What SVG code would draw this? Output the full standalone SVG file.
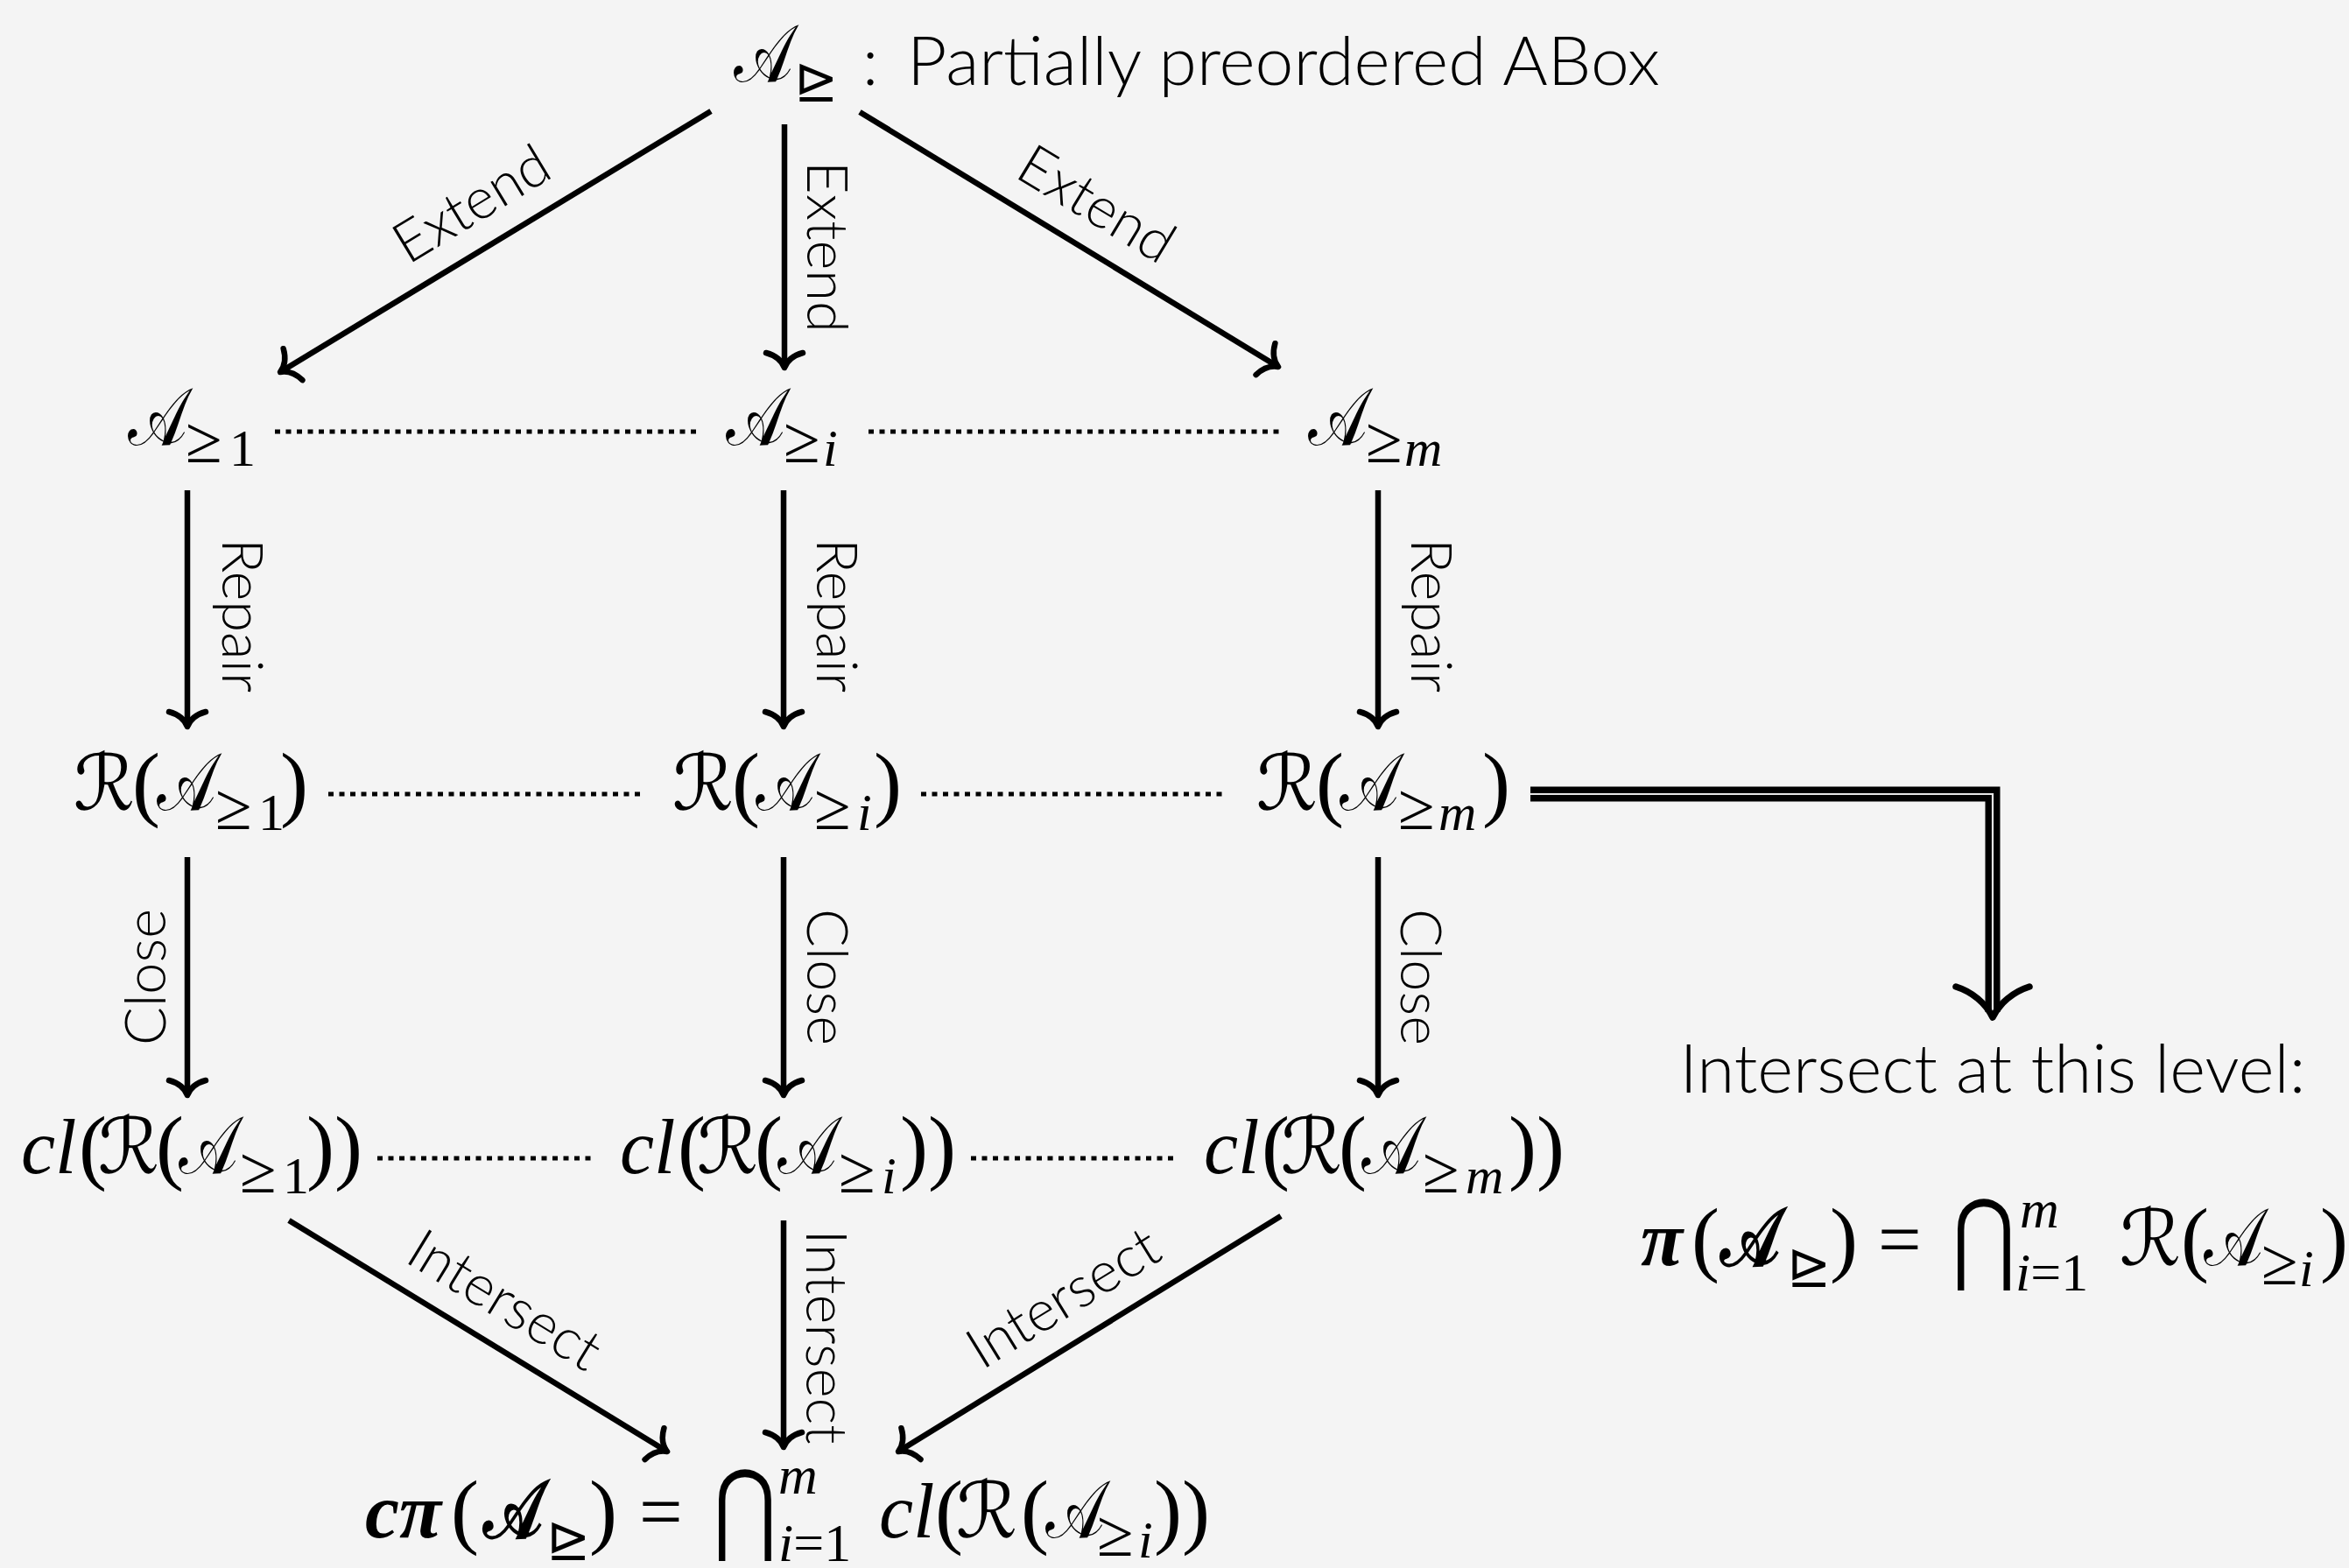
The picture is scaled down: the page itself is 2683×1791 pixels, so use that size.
<svg xmlns="http://www.w3.org/2000/svg" width="2683" height="1791" viewBox="0 0 2683 1791">
<style>
.lb{font-family:Lato,"Open Sans","Liberation Sans",sans-serif;font-weight:300;fill:#000}
.lab{font-size:65px}
.ttl{font-size:76px}
.mi{font-family:"Liberation Serif","DejaVu Serif",serif;font-style:italic}
.rm{font-family:"Liberation Serif","DejaVu Serif",serif;font-style:normal}
.pr{font-family:"Liberation Serif","DejaVu Serif",serif;font-style:normal;font-size:96px}
.cal{font-family:"DejaVu Serif","DejaVu Sans",serif;font-style:normal}
.ca{font-family:"DejaVu Serif","DejaVu Sans",serif;font-style:normal;font-size:92px}
.op{font-family:"DejaVu Sans",sans-serif;font-style:normal}
.ge{font-family:"Liberation Serif","DejaVu Serif",serif;font-style:normal;font-size:76px}
.big{font-size:88px}
.sub{font-size:60px}
.sc{font-size:62px}
.bd{font-weight:bold}
.ar{fill:none;stroke:#000;stroke-width:6.5;marker-end:url(#ah)}
.dot{fill:none;stroke:#000;stroke-width:5;stroke-dasharray:6 6.5}
</style>
<defs>
<marker id="ah" markerUnits="userSpaceOnUse" viewBox="-30 -30 40 60" refX="0" refY="0" markerWidth="40" markerHeight="60" orient="auto" overflow="visible">
<path d="M-17,-21 C-14,-10 -8,-3 0,0 C-8,3 -14,10 -17,21" fill="none" stroke="#000" stroke-width="6.5" stroke-linecap="round" stroke-linejoin="round"/>
</marker>
</defs>
<rect width="2683" height="1791" fill="#f4f4f4"/>

<g id="connectors">
<line class="ar" x1="812" y1="127" x2="320" y2="425"/>
<line class="ar" x1="896" y1="142" x2="896" y2="420"/>
<line class="ar" x1="982" y1="128" x2="1460" y2="419"/>
<line class="ar" x1="214" y1="560" x2="214" y2="830"/>
<line class="ar" x1="895" y1="560" x2="895" y2="830"/>
<line class="ar" x1="1574" y1="560" x2="1574" y2="830"/>
<line class="ar" x1="214" y1="979" x2="214" y2="1251"/>
<line class="ar" x1="895" y1="979" x2="895" y2="1251"/>
<line class="ar" x1="1574" y1="979" x2="1574" y2="1251"/>
<line class="ar" x1="330" y1="1394" x2="762" y2="1658"/>
<line class="ar" x1="895" y1="1394" x2="895" y2="1653"/>
<line class="ar" x1="1463" y1="1389" x2="1026" y2="1658"/>
<line class="dot" x1="314" y1="493" x2="798" y2="493"/>
<line class="dot" x1="992" y1="493" x2="1463" y2="493"/>
<line class="dot" x1="375" y1="907" x2="734" y2="907"/>
<line class="dot" x1="1052" y1="907" x2="1400" y2="907"/>
<line class="dot" x1="431" y1="1323" x2="678" y2="1323"/>
<line class="dot" x1="1109" y1="1323" x2="1343" y2="1323"/>
<path d="M1748,907 H2276 V1156" fill="none" stroke="#000" stroke-width="17" stroke-linejoin="miter"/>
<path d="M1748,907 H2276 V1157" fill="none" stroke="#e6e6e6" stroke-width="2.2" stroke-linejoin="miter"/>
<path d="M2234,1127 C2253,1133 2268,1146 2276,1162 C2284,1146 2299,1133 2318,1127" fill="none" stroke="#000" stroke-width="7.5" stroke-linecap="round" stroke-linejoin="round"/>
<text class="lb lab" text-anchor="middle" transform="translate(550,252) rotate(-31.2)">Extend</text>
<text class="lb lab" text-anchor="middle" transform="translate(922,282) rotate(90)">Extend</text>
<text class="lb lab" text-anchor="middle" transform="translate(1241,252) rotate(31.2)">Extend</text>
<text class="lb lab" text-anchor="middle" transform="translate(254,703) rotate(90)">Repair</text>
<text class="lb lab" text-anchor="middle" transform="translate(933,703) rotate(90)">Repair</text>
<text class="lb lab" text-anchor="middle" transform="translate(1612,703) rotate(90)">Repair</text>
<text class="lb lab" text-anchor="middle" transform="translate(189,1116) rotate(-90)">Close</text>
<text class="lb lab" text-anchor="middle" transform="translate(922,1116) rotate(90)">Close</text>
<text class="lb lab" text-anchor="middle" transform="translate(1600,1116) rotate(90)">Close</text>
<text class="lb lab" text-anchor="middle" transform="translate(565,1504) rotate(31.4)">Intersect</text>
<text class="lb lab" text-anchor="middle" transform="translate(921,1527) rotate(90)">Intersect</text>
<text class="lb lab" text-anchor="middle" transform="translate(1226,1501) rotate(-31.6)">Intersect</text>
</g>

<g id="n-top">
<text class="ca" transform="translate(838,93) scale(0.78,1)">𝒜</text>
<text class="op sub" x="907" y="113">⊵</text>
<text class="lb ttl" x="985" y="97">:</text>
<text class="lb ttl" x="1036" y="97" textLength="860" lengthAdjust="spacingAndGlyphs">Partially preordered ABox</text>
</g>

<g id="n-a1">
<text class="ca" transform="translate(146,508) scale(0.78,1)">𝒜</text>
<text class="big"><tspan class="ge" x="212" y="528">≥</tspan><tspan class="rm sub" x="262" y="532">1</tspan></text>
</g>
<g id="n-ai">
<text class="ca" transform="translate(829,508) scale(0.78,1)">𝒜</text>
<text class="big"><tspan class="ge" x="895" y="528">≥</tspan><tspan class="mi sub" x="940" y="532">i</tspan></text>
</g>
<g id="n-am">
<text class="ca" transform="translate(1494,508) scale(0.78,1)">𝒜</text>
<text class="big"><tspan class="ge" x="1560" y="528">≥</tspan><tspan class="mi sub" x="1604" y="532">m</tspan></text>
</g>

<g id="n-r1">
<text class="ca" transform="translate(179,925) scale(0.78,1)">𝒜</text>
<text class="big"><tspan class="cal" x="84" y="925">ℛ</tspan><tspan class="pr" x="151" y="926">(</tspan><tspan class="ge" x="246" y="947">≥</tspan><tspan class="rm sub" x="295" y="948">1</tspan><tspan class="pr" x="320" y="926">)</tspan></text>
</g>
<g id="n-ri">
<text class="ca" transform="translate(863,925) scale(0.78,1)">𝒜</text>
<text class="big"><tspan class="cal" x="768" y="925">ℛ</tspan><tspan class="pr" x="836" y="926">(</tspan><tspan class="ge" x="930" y="947">≥</tspan><tspan class="mi sub" x="979" y="948">i</tspan><tspan class="pr" x="998" y="926">)</tspan></text>
</g>
<g id="n-rm">
<text class="ca" transform="translate(1530,925) scale(0.78,1)">𝒜</text>
<text class="big"><tspan class="cal" x="1435" y="925">ℛ</tspan><tspan class="pr" x="1503" y="926">(</tspan><tspan class="ge" x="1597" y="947">≥</tspan><tspan class="mi sub" x="1643" y="948">m</tspan><tspan class="pr" x="1693" y="926">)</tspan></text>
</g>

<g id="n-c1">
<text class="ca" transform="translate(204,1340) scale(0.78,1)">𝒜</text>
<text class="big"><tspan class="mi" x="24" y="1340">cl</tspan><tspan class="pr" x="90" y="1341">(</tspan><tspan class="cal" x="112" y="1340">ℛ</tspan><tspan class="pr" x="178" y="1341">(</tspan><tspan class="ge" x="274" y="1362">≥</tspan><tspan class="rm sub" x="323" y="1363">1</tspan><tspan class="pr" x="350" y="1341">))</tspan></text>
</g>
<g id="n-ci">
<text class="ca" transform="translate(888,1340) scale(0.78,1)">𝒜</text>
<text class="big"><tspan class="mi" x="708" y="1340">cl</tspan><tspan class="pr" x="774" y="1341">(</tspan><tspan class="cal" x="796" y="1340">ℛ</tspan><tspan class="pr" x="862" y="1341">(</tspan><tspan class="ge" x="958" y="1362">≥</tspan><tspan class="mi sub" x="1007" y="1363">i</tspan><tspan class="pr" x="1028" y="1341">))</tspan></text>
</g>
<g id="n-cm">
<text class="ca" transform="translate(1555,1340) scale(0.78,1)">𝒜</text>
<text class="big"><tspan class="mi" x="1375" y="1340">cl</tspan><tspan class="pr" x="1441" y="1341">(</tspan><tspan class="cal" x="1463" y="1340">ℛ</tspan><tspan class="pr" x="1529" y="1341">(</tspan><tspan class="ge" x="1625" y="1362">≥</tspan><tspan class="mi sub" x="1674" y="1363">m</tspan><tspan class="pr" x="1723" y="1341">))</tspan></text>
</g>

<g id="n-cpi">
<text class="ca bd" transform="translate(552,1756) scale(0.78,1)">𝒜</text>
<text class="big"><tspan class="mi bd" x="417" y="1756">cπ</tspan><tspan class="pr" x="515" y="1757">(</tspan><tspan class="op sub" x="624" y="1779">⊵</tspan><tspan class="pr" x="673" y="1757">)</tspan><tspan class="rm" x="730" y="1756">=</tspan></text>
<text class="op" font-size="115" transform="translate(815,1761) scale(0.76,1)">⋂</text>
<text class="sc"><tspan class="mi" x="889" y="1706">m</tspan><tspan class="mi" x="889" y="1783">i</tspan><tspan class="rm">=1</tspan></text>
<text class="ca" transform="translate(1194,1756) scale(0.78,1)">𝒜</text>
<text class="big"><tspan class="mi" x="1004" y="1756">cl</tspan><tspan class="pr" x="1068" y="1757">(</tspan><tspan class="cal" x="1092" y="1756">ℛ</tspan><tspan class="pr" x="1166" y="1757">(</tspan><tspan class="ge" x="1253" y="1777">≥</tspan><tspan class="mi sub" x="1300" y="1779">i</tspan><tspan class="pr" x="1318" y="1757">))</tspan></text>
</g>

<g id="n-side">
<text class="lb ttl" x="2276" y="1248" text-anchor="middle" textLength="715" lengthAdjust="spacingAndGlyphs">Intersect at this level:</text>
<text class="ca bd" transform="translate(1965,1445) scale(0.78,1)">𝒜</text>
<text class="big"><tspan class="mi bd" x="1874" y="1445">π</tspan><tspan class="pr" x="1932" y="1446">(</tspan><tspan class="op sub" x="2041" y="1467">⊵</tspan><tspan class="pr" x="2090" y="1446">)</tspan><tspan class="rm" x="2145" y="1445">=</tspan></text>
<text class="op" font-size="115" transform="translate(2230,1452) scale(0.76,1)">⋂</text>
<text class="sc"><tspan class="mi" x="2307" y="1402">m</tspan><tspan class="mi" x="2302" y="1474">i</tspan><tspan class="rm">=1</tspan></text>
<text class="ca" transform="translate(2517,1445) scale(0.78,1)">𝒜</text>
<text class="big"><tspan class="cal" x="2421" y="1445">ℛ</tspan><tspan class="pr" x="2491" y="1446">(</tspan><tspan class="ge" x="2583" y="1467">≥</tspan><tspan class="mi sub" x="2626" y="1469">i</tspan><tspan class="pr" x="2650" y="1446">)</tspan></text>
</g>
</svg>
